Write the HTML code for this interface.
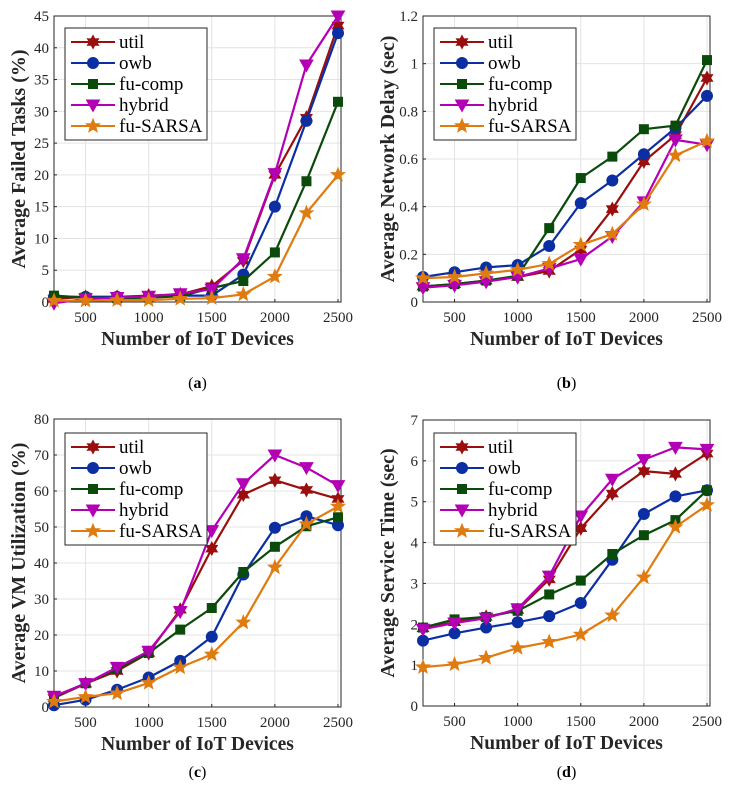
<!DOCTYPE html>
<html><head><meta charset="utf-8">
<style>
body{margin:0;background:#fff;}
svg{display:block;font-family:"Liberation Serif",serif;}
</style></head>
<body>
<svg id="fig" width="738" height="795" viewBox="0 0 738 795" xmlns="http://www.w3.org/2000/svg"></svg>
<script>
const xCategories = [250,500,750,1000,1250,1500,1750,2000,2250,2500];
const xTickLabels = [500,1000,1500,2000,2500];
const seriesNames = ["util","owb","fu-comp","hybrid","fu-SARSA"];

const failedUtil   = [0.5,0.8,0.8,1,1.2,2.5,6.5,20,29,43.5];
const failedOwb    = [0.8,0.8,0.8,0.8,1,1,4.3,15,28.5,42.3];
const failedFuComp = [1,0.7,0.6,0.7,0.9,2.2,3.3,7.8,19,31.5];
const failedHybrid = [-0.2,0.5,0.7,0.9,1.3,2,6.8,20.2,37.3,45];
const failedSarsa  = [0.2,0.2,0.3,0.3,0.5,0.6,1.2,4,14,20];
const failedTicks  = [0,5,10,15,20,25,30,35,40,45];

const delayUtil   = [0.065,0.075,0.09,0.105,0.13,0.22,0.39,0.59,0.70,0.94];
const delayOwb    = [0.105,0.125,0.145,0.155,0.235,0.415,0.51,0.62,0.73,0.865];
const delayFuComp = [0.065,0.075,0.09,0.11,0.31,0.52,0.61,0.725,0.74,1.015];
const delayHybrid = [0.06,0.07,0.085,0.105,0.14,0.18,0.275,0.42,0.68,0.66];
const delaySarsa  = [0.1,0.105,0.12,0.135,0.16,0.24,0.285,0.41,0.615,0.675];
const delayTicks  = [0,0.2,0.4,0.6,0.8,1,1.2];

const vmUtil   = [2.5,6.5,10,15,27,44,59,63,60.3,57.8];
const vmOwb    = [0.5,2,4.8,8.2,12.8,19.5,36.8,49.8,53,50.5];
const vmFuComp = [2.8,6.6,10.5,15,21.5,27.5,37.5,44.5,50.2,52.7];
const vmHybrid = [3,6.5,11,15.5,26.5,49,62,70,66.5,61.5];
const vmSarsa  = [1.5,2.8,3.8,6.7,11,14.6,23.5,38.8,50.8,55.7];
const vmTicks  = [0,10,20,30,40,50,60,70,80];

const svcUtil   = [1.9,2.05,2.18,2.35,3.1,4.35,5.2,5.75,5.68,6.18];
const svcOwb    = [1.6,1.78,1.92,2.05,2.2,2.52,3.58,4.7,5.13,5.28];
const svcFuComp = [1.92,2.12,2.18,2.33,2.73,3.07,3.72,4.18,4.55,5.28];
const svcHybrid = [1.88,2.03,2.15,2.38,3.18,4.65,5.55,6.03,6.33,6.28];
const svcSarsa  = [0.95,1.02,1.18,1.42,1.57,1.75,2.22,3.15,4.38,4.92];
const svcTicks  = [0,1,2,3,4,5,6,7];

const colors = ["#9a0e0e","#0b2fa3","#0a4a0a","#b400b4","#e07b10"];
const markers = ["hex","circle","square","tri","star"];

const NS="http://www.w3.org/2000/svg";
const fig=document.getElementById('fig');
function mk(tag,attrs,parent){const e=document.createElementNS(NS,tag);for(const k in attrs)e.setAttribute(k,attrs[k]);(parent||fig).appendChild(e);return e;}

function starPts(cx,cy,n,ro,ri,rot){let p=[];for(let i=0;i<2*n;i++){const r=i%2?ri:ro;const a=rot+Math.PI*i/n;p.push((cx+r*Math.sin(a)).toFixed(1)+","+(cy-r*Math.cos(a)).toFixed(1));}return p.join(" ");}
function marker(type,cx,cy,c,g){
  let e;
  if(type==="circle") e=mk('circle',{cx:cx,cy:cy,r:5.5,fill:c,stroke:c},g);
  else if(type==="square") e=mk('rect',{x:cx-4.5,y:cy-4.5,width:9,height:9,fill:c,stroke:c},g);
  else if(type==="tri") e=mk('polygon',{points:`${cx-6.5},${cy-5} ${cx+6.5},${cy-5} ${cx},${cy+6.5}`,fill:c,stroke:c},g);
  else if(type==="hex") e=mk('polygon',{points:starPts(cx,cy,6,6.5,3.6,0),fill:c,stroke:c},g);
  else e=mk('polygon',{points:starPts(cx,cy,5,7,3,0),fill:c,stroke:c},g);
  return e;
}

const panels=[
 {id:"failed-tasks",L:54,R:341,T:16,B:302,ymin:0,ymax:45,ticks:failedTicks,title:"Average Failed Tasks (%)",data:[failedUtil,failedOwb,failedFuComp,failedHybrid,failedSarsa],tx:25,cap:"a",capY:388,lx:65,ly:28},
 {id:"network-delay",L:423,R:710,T:16,B:302,ymin:0,ymax:1.2,ticks:delayTicks,title:"Average Network Delay (sec)",data:[delayUtil,delayOwb,delayFuComp,delayHybrid,delaySarsa],tx:394,cap:"b",capY:388,lx:434,ly:28},
 {id:"vm-utilization",L:54,R:341,T:419,B:707,ymin:0,ymax:80,ticks:vmTicks,title:"Average VM Utilization (%)",data:[vmUtil,vmOwb,vmFuComp,vmHybrid,vmSarsa],tx:25,cap:"c",capY:777,lx:65,ly:433},
 {id:"service-time",L:423,R:710,T:420,B:706,ymin:0,ymax:7,ticks:svcTicks,title:"Average Service Time (sec)",data:[svcUtil,svcOwb,svcFuComp,svcHybrid,svcSarsa],tx:394,cap:"d",capY:777,lx:434,ly:433}
];

panels.forEach(p=>{
  const g=mk('g',{});
  
  
  const x=v=>p.L+(v-250)/(2500-250)*(p.R-3-p.L);
  const y=v=>p.B-(v-p.ymin)/(p.ymax-p.ymin)*(p.B-p.T);
  xTickLabels.forEach(t=>{mk('line',{x1:x(t),x2:x(t),y1:p.T,y2:p.B,stroke:"#e3e3e3","stroke-width":1},g);});
  p.ticks.forEach(t=>{mk('line',{x1:p.L,x2:p.R,y1:y(t),y2:y(t),stroke:"#e3e3e3","stroke-width":1},g);});
  const box=mk('rect',{x:p.L,y:p.T,width:p.R-p.L,height:p.B-p.T,fill:"none",stroke:"#262626","stroke-width":1},g);
  
  
  xTickLabels.forEach(t=>{
    mk('line',{x1:x(t),x2:x(t),y1:p.B,y2:p.B-3,stroke:"#262626"},g);
    const tx=mk('text',{x:x(t),y:p.B+20,"text-anchor":"middle","font-size":15,fill:"#262626"},g);
    tx.textContent=t;
    
    
  });
  p.ticks.forEach(t=>{
    mk('line',{x1:p.L,x2:p.L+3,y1:y(t),y2:y(t),stroke:"#262626"},g);
    const tx=mk('text',{x:p.L-5,y:y(t)+5,"text-anchor":"end","font-size":15,fill:"#262626"},g);
    tx.textContent=t;
    
    
  });
  const yt=mk('text',{x:0,y:0,transform:`translate(${p.tx},${(p.T+p.B)/2}) rotate(-90)`,"text-anchor":"middle","font-size":20,"font-weight":"bold",fill:"#262626"},g);
  yt.textContent=p.title;
  
  
  const xt=mk('text',{x:(p.L+p.R)/2,y:p.B+43,"text-anchor":"middle","font-size":19.5,"font-weight":"bold",fill:"#262626"},g);
  xt.textContent="Number of IoT Devices";
  
  
  const cap=mk('text',{x:(p.L+p.R)/2,y:p.capY,"text-anchor":"middle","font-size":16,fill:"#000"},g);
  cap.innerHTML=`(<tspan font-weight="bold">${p.cap}</tspan>)`;
  
  
  p.data.forEach((vals,si)=>{
    const sg=mk('g',{},g);
    
    
    const pts=vals.map((v,i)=>x(xCategories[i]).toFixed(1)+","+y(v).toFixed(1)).join(" ");
    const pl=mk('polyline',{points:pts,fill:"none",stroke:colors[si],"stroke-width":2.2,"stroke-linejoin":"round"},sg);
    
    
    vals.forEach((v,i)=>{
      const m=marker(markers[si],x(xCategories[i]),y(v),colors[si],sg);
      
      
    });
  });
  const lg=mk('g',{},g);
  
  
  mk('rect',{x:p.lx,y:p.ly,width:142,height:112,fill:"#fff",stroke:"#262626","stroke-width":1},lg);
  seriesNames.forEach((n,si)=>{
    const ey=p.ly+14+si*21;
    const eg=mk('g',{},lg);
    
    
    mk('line',{x1:p.lx+6,x2:p.lx+50,y1:ey,y2:ey,stroke:colors[si],"stroke-width":2},eg);
    marker(markers[si],p.lx+28,ey,colors[si],eg);
    const t=mk('text',{x:p.lx+54,y:ey+6,"font-size":19,fill:"#000"},eg);
    t.textContent=n;
  });
});
</script>
</body></html>
